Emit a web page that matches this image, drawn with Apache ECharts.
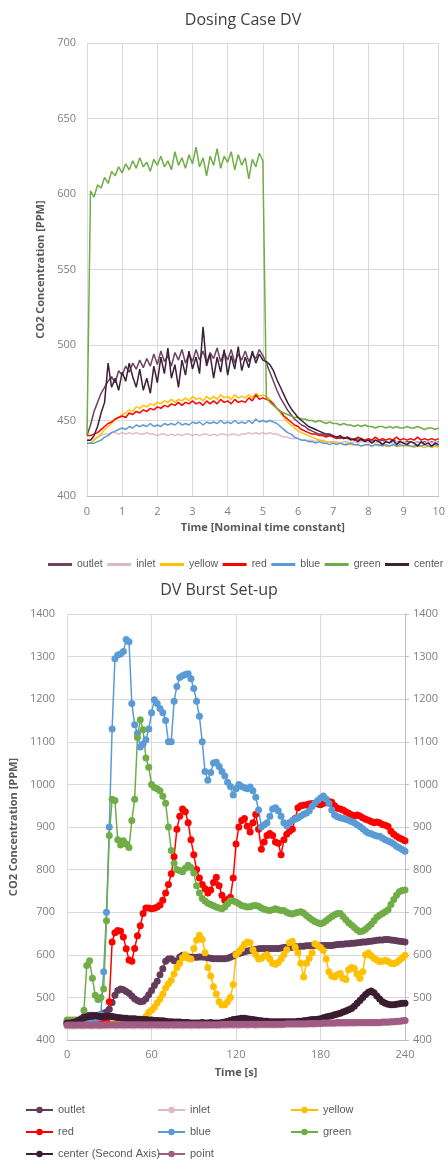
<!DOCTYPE html>
<html>
<head>
<meta charset="utf-8">
<title>CO2 Concentration</title>
<script src="https://cdn.jsdelivr.net/npm/echarts@6/dist/echarts.min.js"></script>
<style>
  html, body { margin: 0; padding: 0; background: #fff; }
  #chart { width: 448px; height: 1162px; }
</style>
</head>
<body>
<div id="chart"></div>
<script>
// ---- Dosing Case DV: samples every 0.1 nominal time constant (0 .. 10)
const dosingTime = [];
for (let i = 0; i <= 100; i++) dosingTime.push(i / 10);

const dosingOutlet = [
  440, 447, 456, 462, 468, 472, 476, 479, 475, 483,
  480, 486, 482, 488, 484, 490, 485, 491, 486, 494,
  487, 496, 489, 493, 486, 495, 490, 497, 488, 494,
  489, 497, 490, 496, 488, 495, 491, 498, 489, 495,
  490, 497, 488, 494, 490, 496, 489, 494, 491, 497,
  493, 488, 482, 476, 470, 465, 461, 457, 454, 451,
  449, 447, 446, 444, 443, 442, 441, 441, 440, 440,
  439, 439, 438, 439, 438, 438, 437, 438, 437, 437,
  437, 436, 437, 436, 437, 436, 436, 437, 436, 436,
  435, 436, 436, 435, 436, 435, 436, 435, 436, 435,
  436
];
const dosingInlet = [
  437, 437, 438, 439, 440, 441, 441, 442, 442, 441,
  442, 441, 442, 441, 442, 441, 441, 442, 441, 441,
  440, 441, 441, 440, 441, 440, 441, 440, 441, 441,
  440, 441, 440, 441, 441, 440, 441, 440, 441, 441,
  440, 441, 441, 440, 441, 441, 442, 441, 442, 441,
  442, 441, 442, 441, 441, 440, 439, 439, 438, 438,
  438, 437, 437, 437, 437, 436, 437, 436, 436, 436,
  436, 436, 435, 436, 436, 435, 436, 435, 436, 436,
  435, 436, 435, 436, 435, 436, 436, 435, 436, 435,
  436, 435, 436, 435, 436, 435, 435, 436, 435, 436,
  435
];
const dosingYellow = [
  435, 435, 437, 439, 441, 444, 446, 448, 451, 452,
  454, 455, 457, 456, 459, 458, 460, 459, 461, 460,
  462, 461, 463, 462, 464, 462, 464, 463, 465, 463,
  466, 464, 465, 463, 466, 464, 466, 464, 467, 465,
  466, 464, 467, 465, 466, 465, 467, 465, 468, 466,
  467, 466, 464, 461, 458, 455, 452, 449, 447, 445,
  443, 442, 441, 440, 439, 438, 437, 437, 436, 436,
  435, 435, 435, 434, 435, 434, 434, 434, 433, 434,
  434, 433, 434, 433, 434, 433, 433, 434, 433, 433,
  434, 433, 433, 432, 433, 433, 432, 433, 432, 433,
  432
];
const dosingRed = [
  440, 440, 441, 442, 444, 446, 448, 449, 451, 452,
  453, 452, 455, 454, 456, 455, 457, 456, 458, 457,
  459, 458, 460, 459, 461, 460, 462, 460, 462, 461,
  463, 461, 462, 460, 463, 461, 463, 461, 464, 462,
  463, 461, 464, 462, 463, 462, 465, 463, 467, 464,
  465, 464, 463, 461, 458, 456, 453, 451, 449, 447,
  446, 444, 443, 442, 441, 441, 440, 440, 439, 440,
  439, 438, 439, 438, 439, 438, 437, 439, 438, 437,
  438, 437, 439, 437, 438, 437, 438, 437, 439, 437,
  438, 437, 438, 437, 439, 437, 438, 437, 438, 437,
  438
];
const dosingBlue = [
  435, 435, 435, 436, 437, 439, 440, 442, 443, 444,
  445, 444, 446, 445, 447, 446, 447, 446, 448, 446,
  447, 446, 448, 447, 448, 447, 449, 447, 448, 447,
  449, 448, 449, 447, 449, 448, 449, 448, 450, 448,
  449, 448, 450, 448, 449, 448, 450, 448, 451, 449,
  450, 449, 450, 449, 448, 446, 444, 442, 441, 439,
  438, 437, 437, 436, 436, 435, 436, 435, 435, 434,
  435, 434, 435, 434, 434, 435, 434, 434, 433, 434,
  434, 433, 434, 434, 433, 434, 433, 434, 433, 434,
  433, 434, 433, 433, 434, 433, 434, 433, 433, 434,
  433
];
const dosingGreen = [
  440, 602, 598, 606, 604, 611, 607, 615, 612, 618,
  614, 620, 616, 622, 617, 624, 618, 621, 615, 623,
  619, 625, 618, 622, 616, 628, 619, 624, 617, 626,
  620, 631, 618, 624, 612, 625, 619, 630, 617, 625,
  621, 628, 616, 626, 619, 624, 610, 623, 618, 627,
  622, 465, 462, 460, 458, 456, 455, 454, 453, 452,
  452, 451, 451, 450, 450, 449, 450, 449, 448, 449,
  448, 448, 447, 448, 447, 447, 446, 447, 446, 447,
  446, 446, 445, 446, 446, 445, 446, 445, 446, 445,
  445, 446, 445, 445, 446, 445, 444, 445, 445, 444,
  445
];
const dosingCenter = [
  437, 437, 440, 446, 455, 462, 488, 472, 478, 470,
  482, 476, 488, 479, 472, 484, 470, 478, 468, 486,
  475, 492, 481, 498, 478, 487, 472, 490, 480, 496,
  484, 492, 481, 512, 486, 494, 478, 492, 482, 497,
  480, 493, 484, 499, 483, 492, 485, 496, 488, 494,
  490, 489, 487, 483, 477, 472, 467, 462, 458, 455,
  452, 450, 448, 446, 445, 444, 443, 442, 441, 441,
  440, 439, 440, 438, 439, 437, 438, 436, 438, 436,
  437, 435, 437, 436, 434, 436, 435, 437, 434, 436,
  435, 434, 436, 435, 433, 436, 434, 435, 433, 435,
  434
];

// ---- DV Burst Set-up: samples every 2 s (0 .. 240)
const burstTime = [];
for (let t = 0; t <= 240; t += 2) burstTime.push(t);

const burstOutlet = [
  440, 440, 441, 442, 444, 450, 455, 457, 458, 458,
  457, 458, 460, 463, 466, 472, 488, 505, 516, 520,
  518, 514, 510, 503, 497, 493, 490, 491, 497, 506,
  516, 528, 538, 553, 567, 585, 590, 591, 586, 585,
  595, 599, 597, 595, 594, 594, 594, 595, 595, 594,
  593, 592, 591, 591, 591, 591, 591, 592, 594, 597,
  601, 603, 605, 607, 609, 610, 612, 613, 614, 615,
  615, 615, 615, 615, 615, 615, 616, 617, 617, 618,
  618, 619, 619, 620, 620, 621, 621, 622, 622, 622,
  622, 622, 622, 622, 622, 623, 624, 625, 625, 626,
  626, 627, 627, 628, 629, 630, 630, 631, 632, 633,
  634, 635, 635, 636, 636, 635, 634, 633, 632, 631,
  630
];
const burstInlet = [
  433, 433, 433, 433, 434, 433, 433, 434, 433, 433,
  434, 433, 433, 434, 433, 433, 434, 433, 433, 434,
  433, 433, 434, 433, 433, 434, 433, 433, 434, 433,
  433, 434, 433, 433, 434, 433, 433, 434, 433, 434,
  434, 433, 434, 434, 433, 434, 434, 433, 434, 434,
  434, 434, 435, 434, 434, 435, 434, 434, 435, 434,
  435, 434, 435, 435, 434, 435, 435, 434, 435, 435,
  435, 435, 436, 435, 435, 436, 435, 436, 436, 436,
  436, 436, 436, 437, 436, 437, 437, 437, 437, 438,
  438, 438, 438, 439, 438, 439, 439, 439, 439, 439,
  439, 440, 439, 440, 440, 440, 440, 440, 440, 440,
  440, 440, 441, 441, 441, 442, 442, 443, 443, 444,
  445
];
const burstYellow = [
  438, 438, 438, 438, 438, 438, 438, 438, 438, 438,
  438, 438, 439, 439, 440, 440, 441, 441, 442, 442,
  442, 443, 443, 443, 444, 444, 445, 446, 455, 465,
  470, 477, 487, 496, 508, 522, 532, 540, 555, 570,
  580, 593, 600, 592, 590, 615, 635, 646, 636, 605,
  570, 550, 525, 508, 490, 482, 483, 490, 500, 530,
  600, 608, 615, 625, 630, 628, 612, 600, 590, 592,
  597, 600, 590, 580, 578, 582, 590, 600, 612, 628,
  632, 618, 605, 580, 548, 580, 592, 605, 626, 622,
  617, 610, 590, 560, 550, 548, 553, 556, 545, 542,
  565, 570, 568, 555, 545, 560, 600, 604, 598, 592,
  588, 584, 585, 587, 584, 580, 579, 582, 587, 593,
  599
];
const burstRed = [
  440, 440, 440, 440, 440, 440, 440, 440, 440, 440,
  440, 440, 441, 442, 445, 490, 630, 652, 657, 655,
  642, 614, 588, 585, 615, 645, 668, 697, 710, 710,
  708, 709, 712, 717, 728, 745, 765, 790, 830, 895,
  925, 942, 936, 910, 870, 835, 800, 780, 765, 755,
  745, 752, 770, 782, 762, 740, 728, 730, 735, 780,
  860, 900, 915, 920, 902, 888, 910, 930, 895, 848,
  865, 880, 885, 880, 865, 862, 835, 870, 883, 890,
  895, 920, 945, 950, 951, 952, 954, 955, 956, 954,
  952, 955, 958, 960, 958, 950, 944, 942, 940, 936,
  932, 929, 926, 928, 926, 922, 918, 916, 913, 910,
  912, 910, 906, 904, 901, 890, 883, 878, 874, 871,
  868
];
const burstBlue = [
  440, 440, 440, 440, 440, 441, 441, 442, 443, 445,
  448, 452, 460, 560, 700, 900, 1130, 1295, 1304, 1306,
  1312, 1340, 1335, 1190, 1140, 1120, 1088, 1095, 1105, 1130,
  1168, 1199, 1190, 1178, 1168, 1150, 1100, 1100, 1195, 1230,
  1251, 1255, 1258, 1260, 1248, 1225, 1195, 1160, 1100, 1030,
  1010, 1028, 1050, 1052, 1042, 1030, 1020, 1005, 995, 975,
  990, 1000, 995, 992, 990, 994, 985, 970, 940, 900,
  905, 910, 925, 942, 945, 938, 925, 910, 903, 910,
  915, 918, 922, 926, 930, 933, 938, 948, 956, 962,
  968, 973, 966, 955, 940, 928, 924, 922, 920, 918,
  916, 913, 910, 905, 901, 896, 890, 886, 884, 881,
  879, 878, 874, 870, 867, 864, 860, 855, 851, 847,
  843
];
const burstGreen = [
  447, 447, 447, 447, 447, 448, 470, 575, 586, 545,
  505, 495, 500, 520, 680, 880, 965, 962, 870, 858,
  868, 860, 852, 915, 965, 1110, 1152, 1128, 1062, 1040,
  1000, 993, 990, 985, 972, 956, 900, 845, 815, 800,
  798, 795, 803, 810, 805, 792, 762, 745, 732, 726,
  721, 718, 715, 712, 710, 708, 712, 720, 727, 726,
  724, 720, 716, 714, 712, 713, 715, 716, 714, 710,
  707, 705, 704, 706, 708, 706, 704, 704, 700, 697,
  696, 698, 700, 701, 698, 692, 687, 682, 678, 675,
  673, 675, 680, 685, 690, 694, 697, 697, 690, 682,
  675, 670, 664, 658, 654, 656, 660, 666, 672, 680,
  688, 693, 697, 701, 706, 718, 730, 740, 748, 751,
  752
];
const burstCenter = [
  440, 440, 441, 443, 446, 449, 452, 454, 455, 456,
  457, 456, 455, 455, 456, 456, 455, 454, 453, 452,
  451, 451, 450, 450, 450, 449, 449, 448, 448, 447,
  447, 446, 446, 445, 445, 444, 443, 443, 442, 442,
  442, 441, 441, 441, 440, 440, 440, 440, 441, 440,
  440, 441, 440, 440, 440, 441, 442, 444, 446, 448,
  449, 450, 451, 451, 450, 449, 448, 447, 446, 445,
  444, 444, 443, 443, 443, 443, 443, 443, 443, 443,
  443, 443, 444, 444, 445, 446, 447, 448, 448, 449,
  450, 452, 454, 456, 457, 459, 461, 463, 466, 468,
  471, 474, 479, 486, 493, 500, 507, 512, 515, 511,
  503, 496, 490, 486, 484, 483, 483, 484, 485, 486,
  486
];
const burstPoint = [
  435, 435, 435, 435, 435, 435, 435, 435, 435, 435,
  435, 435, 435, 435, 436, 436, 436, 436, 436, 436,
  436, 436, 436, 436, 436, 436, 436, 436, 436, 436,
  436, 436, 436, 436, 436, 436, 436, 436, 436, 436,
  436, 436, 436, 436, 436, 436, 436, 436, 436, 436,
  436, 436, 436, 436, 436, 437, 437, 437, 437, 437,
  437, 437, 437, 437, 437, 437, 437, 437, 437, 437,
  437, 437, 437, 437, 437, 437, 437, 437, 438, 438,
  438, 438, 438, 438, 438, 438, 439, 439, 439, 439,
  439, 440, 440, 440, 440, 440, 441, 441, 441, 441,
  441, 441, 441, 441, 441, 441, 441, 441, 441, 441,
  441, 441, 442, 442, 442, 443, 443, 444, 444, 445,
  446
];

const dosingNames = ['outlet', 'inlet', 'yellow', 'red', 'blue', 'green', 'center'];
const dosingValues = [dosingOutlet, dosingInlet, dosingYellow, dosingRed, dosingBlue, dosingGreen, dosingCenter];
const dosingColors = ['#6d4262', '#dcb9ca', '#ffc000', '#ff0000', '#5b9bd5', '#70ad47', '#3d2036'];

const burstNames = ['outlet', 'inlet', 'yellow', 'red', 'blue', 'green', 'center (Second Axis)', 'point'];
const burstValues = [burstOutlet, burstInlet, burstYellow, burstRed, burstBlue, burstGreen, burstCenter, burstPoint];
const burstColors = ['#633b5b', '#e0b8cc', '#ffc000', '#ff0000', '#5b9bd5', '#70ad47', '#3b1c31', '#a05c82'];

const FONT = '"Open Sans", "Noto Sans", sans-serif';
const LEGEND_FONT = '"Liberation Sans", Arial, sans-serif';
const labelGray = '#7f7f7f';
const textGray = '#595959';
const gridGray = '#d9d9d9';

const pairs = (xs, ys) => xs.map((x, i) => [x, ys[i]]);
const plain = v => String(v); // no thousands separator

const series = [];
dosingNames.forEach((name, k) => {
  series.push({
    name: name,
    type: 'line',
    xAxisIndex: 0,
    yAxisIndex: 0,
    data: pairs(dosingTime, dosingValues[k]),
    symbol: 'none',
    lineStyle: { width: 1.5, color: dosingColors[k] },
    itemStyle: { color: dosingColors[k] },
    animation: false
  });
});
burstNames.forEach((name, k) => {
  series.push({
    name: 'b_' + name,
    type: 'line',
    xAxisIndex: 1,
    yAxisIndex: name.indexOf('Second') >= 0 ? 2 : 1,
    data: pairs(burstTime, burstValues[k]),
    symbol: 'circle',
    symbolSize: 7,
    showAllSymbol: true,
    lineStyle: { width: 1.5, color: burstColors[k] },
    itemStyle: { color: burstColors[k] },
    animation: false
  });
});

const burstLegend = (left, names) => ({
  orient: 'vertical',
  left: left,
  top: 1104,
  height: 70,
  padding: 0,
  itemWidth: 27,
  itemHeight: 8,
  itemGap: 10,
  data: names.map(n => 'b_' + n),
  formatter: n => n.slice(2),
  textStyle: { color: textGray, fontSize: 11, fontFamily: LEGEND_FONT, lineHeight: 12 }
});

const option = {
  backgroundColor: '#fff',
  title: [
    { text: 'Dosing Case DV', left: 238, top: 7, textAlign: 'center',
      textStyle: { color: '#404040', fontSize: 16, fontWeight: 'normal', fontFamily: FONT } },
    { text: 'DV Burst Set-up', left: 214, top: 577, textAlign: 'center',
      textStyle: { color: '#404040', fontSize: 16, fontWeight: 'normal', fontFamily: FONT } }
  ],
  legend: [
    {
      left: 48,
      top: 559,
      width: 400,
      padding: 0,
      icon: 'rect',
      itemWidth: 24,
      itemHeight: 3,
      itemGap: 4.5,
      data: dosingNames,
      textStyle: { color: textGray, fontSize: 10.5, fontFamily: LEGEND_FONT }
    },
    burstLegend(25, ['outlet', 'red', 'center (Second Axis)']),
    burstLegend(157, ['inlet', 'blue', 'point']),
    burstLegend(290, ['yellow', 'green'])
  ],
  grid: [
    { left: 87, top: 43, width: 356, height: 453 },
    { left: 65, top: 614, width: 340, height: 426 }
  ],
  xAxis: [
    {
      gridIndex: 0, type: 'value', min: 0, max: 10, interval: 1,
      name: 'Time [Nominal time constant]', nameLocation: 'middle', nameGap: 26,
      nameTextStyle: { color: textGray, fontSize: 11, fontWeight: 'bold', fontFamily: FONT },
      axisLine: { lineStyle: { color: '#bfbfbf' } },
      axisTick: { show: false },
      axisLabel: { color: labelGray, fontSize: 11, fontFamily: FONT, margin: 10 },
      splitLine: { show: true, lineStyle: { color: gridGray } }
    },
    {
      gridIndex: 1, type: 'value', min: 0, max: 240, interval: 60,
      name: 'Time [s]', nameLocation: 'middle', nameGap: 27,
      nameTextStyle: { color: textGray, fontSize: 11, fontWeight: 'bold', fontFamily: FONT },
      axisLine: { lineStyle: { color: '#bfbfbf' } },
      axisTick: { show: false },
      axisLabel: { color: labelGray, fontSize: 11, fontFamily: FONT, margin: 9 },
      splitLine: { show: true, lineStyle: { color: gridGray } }
    }
  ],
  yAxis: [
    {
      gridIndex: 0, type: 'value', min: 400, max: 700, interval: 50,
      name: 'CO2 Concentration [PPM]', nameLocation: 'middle', nameGap: 40,
      nameTextStyle: { color: textGray, fontSize: 11, fontWeight: 'bold', fontFamily: FONT },
      axisLine: { show: false },
      axisTick: { show: false },
      axisLabel: { color: labelGray, fontSize: 11, fontFamily: FONT, margin: 11, formatter: plain },
      splitLine: { lineStyle: { color: gridGray } }
    },
    {
      gridIndex: 1, type: 'value', min: 400, max: 1400, interval: 100,
      name: 'CO2 Concentration [PPM]', nameLocation: 'middle', nameGap: 48,
      nameTextStyle: { color: textGray, fontSize: 11, fontWeight: 'bold', fontFamily: FONT },
      axisLine: { show: true, lineStyle: { color: gridGray } },
      axisTick: { show: false },
      axisLabel: { color: labelGray, fontSize: 11, fontFamily: FONT, margin: 12, formatter: plain },
      splitLine: { lineStyle: { color: gridGray } }
    },
    {
      gridIndex: 1, type: 'value', min: 400, max: 1400, interval: 100, position: 'right',
      axisLine: { show: true, lineStyle: { color: '#bfbfbf' } },
      axisTick: { show: true, length: 4, lineStyle: { color: '#bfbfbf' } },
      axisLabel: { color: labelGray, fontSize: 11, fontFamily: FONT, margin: 8, formatter: plain },
      splitLine: { show: false }
    }
  ],
  series: series
};

const myChart = echarts.init(document.getElementById('chart'), null, { renderer: 'canvas' });
myChart.setOption(option);
</script>
</body>
</html>
